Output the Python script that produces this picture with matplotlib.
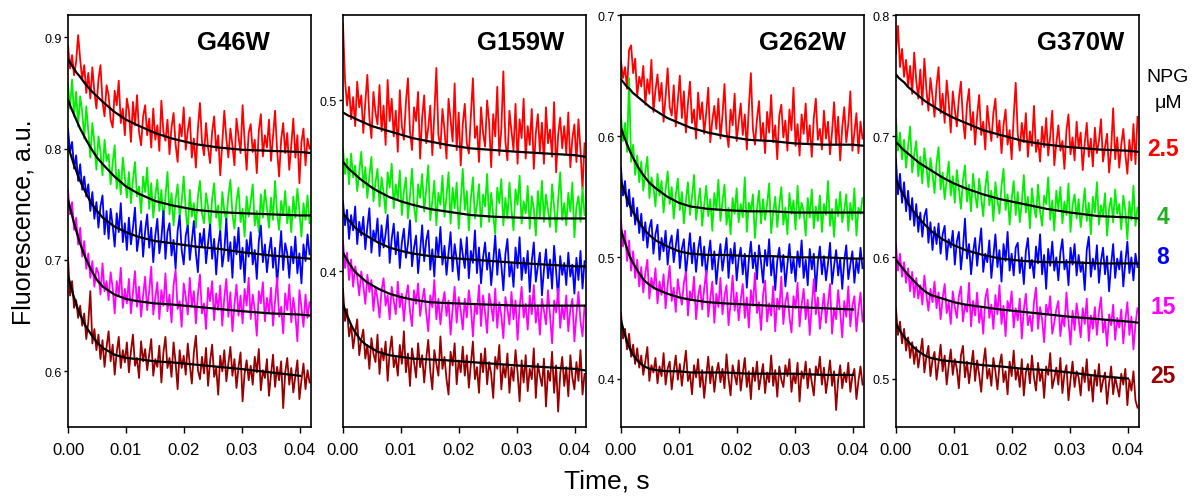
import matplotlib
matplotlib.use("Agg")
import matplotlib.pyplot as plt
import numpy as np
from matplotlib.ticker import FormatStrFormatter

plt.rcParams["font.family"] = ["Liberation Sans", "DejaVu Sans"]

# sampling grid of the stopped-flow traces (s)
TIME = np.arange(120) * 0.00035
# time points where the fitted curves were read (s)
FIT_TIME = [0, .0005, .001, .0015, .002, .003, .004, .005, .006, .008,
            .010, .012, .015, .018, .022, .026, .030, .035, .040, .042]

NPG_LABELS = ["2.5", "4", "8", "15", "25"]
TRACE_COLORS = ["#ff0000", "#00f000", "#0000ff", "#ff00ff", "#990000"]
LABEL_COLORS = ["#ff0000", "#22b022", "#0000ff", "#ff00ff", "#990000"]

# ---- G46W (fluorescence x1000) ----
G46W_25 = [893, 872, 884, 866, 878, 902, 880, 862, 875, 850,
           868, 845, 873, 851, 836, 862, 875, 842, 829, 857,
           848, 826, 819, 852, 839, 861, 823, 836, 812, 845,
           834, 806, 842, 821, 848, 815, 803, 829, 839, 812,
           827, 801, 836, 808, 821, 798, 843, 815, 807, 826,
           795, 819, 832, 804, 788, 822, 811, 837, 799, 816,
           828, 792, 809, 783, 818, 841, 806, 794, 823, 801,
           787, 815, 829, 798, 812, 776, 805, 834, 809, 792,
           818, 803, 785, 827, 811, 796, 839, 807, 781, 814,
           822, 797, 808, 778, 816, 831, 793, 812, 801, 826,
           789, 811, 834, 799, 775, 808, 823, 796, 814, 781,
           803, 827, 792, 812, 769, 806, 818, 785, 809, 800]
G46W_4 = [858, 836, 862, 829, 851, 820, 847, 833, 809, 838,
          816, 792, 823, 805, 781, 811, 797, 776, 808, 789,
          795, 768, 787, 803, 764, 781, 759, 792, 774, 756,
          779, 751, 772, 788, 757, 766, 742, 775, 761, 783,
          746, 769, 738, 758, 772, 744, 763, 735, 757, 779,
          741, 760, 731, 754, 768, 739, 752, 775, 744, 726,
          763, 739, 751, 729, 757, 771, 742, 733, 760, 748,
          727, 755, 769, 738, 749, 722, 761, 744, 735, 758,
          772, 741, 728, 753, 765, 734, 746, 721, 757, 739,
          752, 768, 731, 744, 725, 759, 738, 763, 747, 729,
          756, 736, 771, 742, 727, 753, 740, 762, 733, 748,
          725, 757, 738, 764, 744, 721, 751, 736, 758, 733]
G46W_8 = [818, 797, 806, 782, 794, 771, 786, 763, 775, 757,
          768, 744, 761, 737, 752, 729, 748, 758, 723, 744,
          719, 746, 731, 712, 742, 725, 751, 716, 733, 709,
          738, 714, 729, 747, 708, 721, 735, 703, 726, 741,
          711, 729, 698, 722, 737, 706, 719, 744, 701, 725,
          733, 704, 718, 692, 726, 740, 709, 696, 722, 731,
          700, 717, 735, 706, 689, 724, 712, 728, 697, 715,
          732, 701, 719, 687, 713, 726, 694, 708, 737, 699,
          716, 684, 721, 705, 729, 692, 711, 680, 718, 703,
          725, 696, 709, 683, 717, 731, 698, 714, 689, 707,
          720, 693, 711, 678, 702, 726, 691, 715, 706, 684,
          712, 697, 721, 688, 706, 679, 714, 699, 723, 705]
G46W_15 = [763, 741, 752, 727, 738, 714, 729, 703, 717, 692,
           706, 684, 699, 676, 693, 688, 669, 697, 672, 681,
           664, 689, 675, 652, 681, 668, 693, 657, 674, 661,
           683, 652, 671, 690, 658, 676, 649, 668, 685, 655,
           672, 694, 651, 666, 680, 647, 673, 659, 688, 654,
           669, 644, 677, 691, 656, 663, 640, 679, 667, 651,
           684, 658, 672, 643, 669, 687, 652, 661, 638, 675,
           663, 681, 646, 670, 655, 677, 641, 666, 683, 649,
           671, 636, 660, 678, 650, 668, 643, 674, 659, 684,
           647, 669, 655, 632, 672, 661, 680, 645, 666, 652,
           675, 641, 663, 684, 649, 658, 634, 670, 655, 678,
           644, 666, 651, 627, 673, 657, 640, 669, 648, 662]
G46W_25B = [702, 668, 681, 657, 664, 648, 659, 641, 652, 629,
            644, 672, 625, 638, 619, 633, 611, 628, 604, 622,
            636, 609, 624, 597, 617, 631, 603, 619, 608, 626,
            599, 618, 633, 605, 612, 594, 627, 609, 620, 601,
            615, 629, 596, 611, 604, 623, 590, 617, 631, 603,
            612, 595, 626, 608, 584, 619, 603, 614, 597, 625,
            606, 589, 617, 632, 601, 593, 613, 598, 621, 587,
            609, 624, 595, 603, 579, 614, 600, 619, 591, 607,
            622, 596, 611, 585, 604, 617, 573, 598, 610, 592,
            605, 588, 613, 599, 620, 583, 601, 594, 611, 578,
            597, 615, 586, 604, 592, 609, 567, 599, 612, 588,
            603, 581, 596, 610, 575, 592, 607, 584, 601, 590]
G46W_FITS = [
    [880, 876, 872, 868, 865, 858, 852, 847, 842, 833, 826, 821, 814, 809, 804, 801, 799, 798, 797, 796],
    [844, 837, 831, 825, 819, 809, 800, 792, 786, 775, 766, 760, 753, 749, 745, 743, 742, 741, 740, 740],
    [802, 794, 786, 779, 772, 761, 751, 744, 738, 730, 725, 721, 717, 715, 712, 710, 707, 704, 702, 701],
    [754, 744, 734, 725, 716, 702, 691, 682, 676, 669, 665, 663, 661, 660, 658, 656, 654, 652, 651, 650],
    [686, 676, 667, 659, 652, 641, 633, 626, 621, 615, 612, 611, 609, 608, 606, 604, 602, 599, 596],
]

# ---- G159W ----
G159W_25 = [545, 512, 497, 508, 489, 502, 485, 511, 496, 503,
            481, 499, 515, 490, 478, 505, 493, 486, 509, 482,
            497, 474, 512, 488, 501, 479, 494, 470, 506, 485,
            477, 499, 513, 482, 471, 496, 488, 505, 466, 490,
            503, 475, 484, 497, 468, 492, 519, 480, 472, 495,
            483, 466, 501, 489, 476, 510, 471, 493, 462, 486,
            498, 475, 469, 491, 513, 478, 485, 464, 496, 481,
            473, 500, 487, 461, 492, 479, 508, 468, 483, 517,
            476, 465, 494, 482, 471, 498, 463, 489, 478, 501,
            466, 485, 474, 495, 460, 481, 492, 470, 487, 463,
            496, 475, 483, 467, 499, 458, 480, 490, 472, 485,
            469, 493, 461, 478, 486, 464, 489, 471, 448, 475]
G159W_4 = [472, 457, 466, 451, 469, 455, 462, 447, 458, 470,
           449, 461, 443, 456, 467, 441, 452, 460, 438, 455,
           446, 434, 458, 449, 463, 437, 451, 442, 459, 433,
           447, 455, 431, 444, 460, 438, 429, 451, 443, 457,
           435, 448, 462, 430, 441, 453, 427, 446, 439, 456,
           432, 444, 458, 428, 449, 437, 452, 425, 441, 460,
           436, 447, 424, 443, 455, 431, 439, 451, 426, 445,
           438, 457, 429, 446, 433, 422, 449, 440, 454, 427,
           443, 431, 452, 436, 424, 448, 439, 456, 428, 441,
           434, 450, 425, 444, 437, 421, 447, 432, 453, 429,
           445, 436, 426, 451, 438, 423, 442, 458, 430, 440,
           427, 446, 435, 452, 420, 438, 444, 429, 449, 433]
G159W_8 = [441, 427, 436, 419, 433, 424, 438, 416, 429, 421,
           432, 413, 426, 437, 411, 424, 418, 431, 409, 427,
           414, 422, 433, 405, 419, 428, 410, 423, 402, 417,
           425, 408, 416, 430, 403, 414, 421, 399, 412, 427,
           406, 418, 424, 401, 413, 397, 420, 409, 426, 404,
           415, 398, 411, 423, 400, 416, 407, 395, 419, 410,
           402, 420, 396, 412, 405, 424, 399, 414, 393, 408,
           417, 401, 411, 392, 406, 421, 398, 413, 404, 389,
           410, 419, 397, 405, 391, 414, 402, 420, 395, 408,
           399, 412, 388, 406, 417, 394, 403, 411, 386, 401,
           413, 396, 407, 390, 415, 400, 384, 409, 398, 405,
           392, 411, 397, 404, 387, 408, 395, 412, 390, 406]
G159W_15 = [418, 402, 411, 395, 407, 391, 403, 397, 386, 400,
            392, 381, 398, 388, 395, 377, 391, 384, 373, 389,
            396, 380, 386, 372, 391, 383, 375, 394, 379, 387,
            371, 385, 392, 377, 368, 389, 381, 393, 374, 383,
            390, 376, 365, 386, 379, 395, 372, 384, 369, 381,
            388, 374, 383, 363, 378, 391, 370, 385, 377, 366,
            384, 373, 389, 379, 362, 381, 375, 392, 368, 386,
            376, 364, 387, 380, 371, 390, 367, 382, 374, 361,
            385, 378, 369, 388, 372, 383, 360, 379, 391, 373,
            381, 366, 386, 375, 392, 370, 380, 363, 384, 377,
            369, 389, 374, 358, 383, 376, 390, 367, 380, 372,
            386, 365, 378, 384, 359, 375, 388, 371, 362, 380]
G159W_25B = [390, 371, 378, 362, 369, 355, 364, 372, 351, 360,
             366, 349, 357, 343, 361, 352, 347, 363, 340, 355,
             348, 359, 336, 353, 362, 344, 350, 339, 357, 346,
             365, 341, 352, 333, 355, 347, 338, 358, 344, 351,
             335, 349, 360, 342, 331, 354, 346, 339, 362, 343,
             350, 337, 328, 353, 345, 358, 334, 348, 341, 356,
             339, 351, 332, 346, 359, 337, 344, 329, 352, 341,
             355, 334, 347, 340, 326, 350, 343, 357, 331, 345,
             338, 352, 329, 344, 336, 354, 341, 324, 348, 335,
             351, 330, 343, 337, 355, 326, 346, 339, 333, 349,
             321, 342, 336, 353, 329, 345, 318, 340, 350, 333,
             344, 327, 351, 338, 331, 347, 336, 354, 328, 340]
G159W_FITS = [
    [493, 492, 491, 490.5, 489.5, 488, 486.5, 485, 484, 482, 480, 478, 476, 474, 472, 471, 470, 469, 468, 467],
    [464, 462, 460, 458.5, 457, 454, 451.5, 449, 447, 443.5, 441, 439, 436.5, 435, 433, 432, 431.5, 431, 431, 431],
    [434, 432, 430, 428, 426, 423, 421, 419, 417, 414, 412, 410.5, 409, 408, 407, 406, 405, 404, 403, 403],
    [411, 408, 405, 402.5, 400, 397, 394, 392, 390, 387, 385, 383.5, 382, 381.5, 381, 380.5, 380, 380, 380, 380],
    [381, 376, 372, 368, 365, 360, 357, 355, 353, 351, 350, 349, 348.5, 348, 347, 346, 345, 344, 343, 342],
]

# ---- G262W ----
G262W_25 = [662, 648, 657, 639, 671, 675, 652, 664, 633, 649,
            641, 658, 626, 647, 635, 663, 620, 638, 651, 629,
            644, 612, 633, 656, 624, 617, 642, 608, 629, 650,
            615, 637, 603, 627, 645, 611, 622, 598, 636, 614,
            628, 602, 619, 640, 595, 613, 625, 606, 631, 598,
            617, 643, 604, 591, 622, 609, 635, 596, 612, 627,
            601, 618, 589, 624, 652, 606, 593, 614, 629, 597,
            611, 586, 620, 603, 634, 595, 609, 581, 617, 626,
            599, 613, 588, 622, 605, 640, 592, 610, 584, 618,
            602, 627, 594, 609, 583, 615, 631, 597, 606, 589,
            621, 598, 612, 585, 604, 628, 593, 616, 580, 607,
            624, 595, 610, 637, 588, 603, 619, 586, 612, 598]
G262W_4 = [618, 596, 611, 587, 648, 579, 593, 568, 584, 562,
           579, 555, 571, 583, 549, 566, 558, 542, 569, 551,
           563, 537, 556, 571, 544, 558, 532, 551, 565, 539,
           554, 528, 547, 562, 535, 550, 568, 531, 545, 557,
           526, 543, 559, 534, 548, 522, 553, 539, 564, 530,
           546, 560, 527, 541, 519, 549, 536, 557, 529, 544,
           533, 566, 521, 545, 538, 552, 516, 540, 555, 528,
           548, 531, 544, 561, 520, 537, 550, 525, 543, 558,
           527, 541, 519, 553, 536, 547, 523, 559, 532, 545,
           538, 518, 549, 533, 556, 524, 542, 530, 551, 521,
           544, 535, 563, 526, 540, 517, 548, 534, 554, 529,
           539, 552, 522, 545, 531, 557, 518, 541, 536, 549]
G262W_8 = [574, 551, 563, 542, 556, 534, 549, 527, 541, 520,
           536, 514, 529, 508, 524, 531, 503, 519, 527, 498,
           516, 505, 522, 494, 511, 518, 496, 509, 523, 491,
           507, 515, 486, 503, 520, 495, 512, 488, 506, 517,
           493, 509, 484, 501, 514, 490, 505, 478, 497, 511,
           489, 502, 516, 483, 507, 495, 512, 481, 499, 508,
           486, 503, 475, 498, 513, 491, 504, 482, 510, 496,
           479, 506, 493, 515, 485, 500, 473, 497, 508, 488,
           502, 476, 494, 511, 487, 499, 480, 505, 492, 514,
           483, 498, 477, 507, 490, 503, 472, 496, 509, 486,
           501, 481, 495, 512, 478, 493, 506, 485, 499, 474,
           497, 510, 482, 494, 505, 479, 498, 487, 508, 491]
G262W_15 = [531, 509, 522, 497, 514, 489, 505, 483, 498, 476,
            492, 471, 487, 498, 466, 483, 474, 491, 462, 480,
            469, 486, 458, 477, 493, 464, 475, 455, 482, 470,
            461, 479, 488, 452, 472, 465, 484, 449, 468, 477,
            457, 474, 489, 451, 466, 480, 446, 470, 459, 483,
            453, 468, 477, 444, 462, 485, 456, 471, 448, 465,
            478, 450, 467, 442, 473, 460, 487, 454, 463, 440,
            469, 481, 447, 462, 452, 476, 439, 466, 457, 484,
            445, 463, 471, 451, 438, 468, 458, 479, 443, 461,
            474, 449, 465, 436, 460, 482, 453, 467, 441, 456,
            470, 446, 462, 478, 437, 458, 449, 473, 455, 434,
            464, 451, 476, 443, 460, 468, 439, 457, 471, 447]
G262W_25B = [454, 433, 441, 424, 437, 418, 428, 412, 425, 409,
             419, 403, 414, 426, 398, 411, 405, 417, 396, 410,
             402, 421, 395, 408, 414, 391, 406, 419, 399, 412,
             394, 409, 423, 398, 404, 387, 411, 401, 416, 393,
             407, 384, 402, 418, 396, 410, 389, 405, 413, 397,
             408, 392, 420, 400, 386, 411, 403, 395, 415, 390,
             404, 417, 393, 406, 383, 409, 398, 414, 391, 402,
             412, 388, 405, 397, 419, 394, 407, 385, 410, 399,
             393, 411, 402, 416, 389, 404, 396, 413, 381, 406,
             400, 414, 392, 408, 397, 386, 410, 403, 418, 395,
             409, 388, 401, 415, 394, 406, 374, 399, 411, 392,
             405, 397, 413, 389, 402, 408, 383, 398, 410, 395]
G262W_FITS = [
    [647, 644, 641, 639, 636, 632, 628, 624, 621, 615, 611, 607, 603, 600, 597, 596, 594, 593, 593, 592],
    [607, 600, 594, 588, 583, 574, 567, 561, 557, 550, 545, 542, 540, 539, 538, 538, 537, 537, 537, 537],
    [562, 556, 549, 543, 538, 530, 523, 518, 514, 509, 505, 503, 502, 502, 501, 501, 500, 500, 499, 499],
    [523, 515, 508, 501, 496, 488, 481, 477, 474, 470, 467, 465, 463, 462, 461, 460, 459, 458, 457],
    [448, 439, 431, 425, 420, 414, 410, 408, 407, 406, 406, 405, 405, 405, 404, 404, 404, 403, 403],
]

# ---- G370W ----
G370W_25 = [768, 791, 757, 772, 749, 763, 741, 758, 735, 769,
            746, 731, 755, 726, 764, 739, 721, 748, 733, 716,
            742, 757, 719, 735, 711, 746, 728, 703, 737, 722,
            708, 731, 745, 714, 698, 726, 739, 705, 720, 693,
            717, 734, 701, 712, 689, 725, 708, 696, 719, 731,
            699, 713, 686, 709, 722, 693, 705, 681, 716, 744,
            702, 688, 711, 695, 719, 683, 704, 692, 725, 687,
            697, 679, 708, 691, 715, 684, 700, 721, 676, 694,
            709, 688, 696, 673, 705, 718, 685, 699, 680, 712,
            690, 703, 672, 694, 711, 683, 698, 675, 707, 686,
            696, 714, 679, 691, 702, 670, 689, 723, 681, 699,
            674, 693, 706, 685, 669, 697, 680, 710, 677, 716]
G370W_4 = [714, 688, 703, 681, 697, 674, 692, 708, 670, 685,
           696, 667, 683, 661, 690, 675, 658, 682, 669, 653,
           678, 691, 656, 670, 648, 664, 679, 651, 667, 645,
           672, 657, 640, 663, 676, 646, 660, 638, 669, 652,
           641, 665, 649, 634, 658, 671, 643, 655, 630, 662,
           647, 636, 659, 673, 639, 652, 627, 648, 663, 635,
           654, 629, 645, 668, 637, 650, 624, 657, 641, 633,
           660, 638, 626, 651, 644, 666, 631, 647, 622, 655,
           640, 658, 628, 646, 635, 661, 621, 643, 652, 632,
           648, 625, 639, 657, 630, 645, 619, 650, 637, 662,
           627, 643, 634, 653, 618, 640, 649, 629, 656, 636,
           644, 623, 651, 638, 615, 646, 631, 659, 626, 641]
G370W_8 = [681, 652, 669, 645, 662, 638, 655, 631, 649, 626,
           644, 621, 637, 617, 634, 640, 612, 629, 606, 625,
           611, 628, 603, 619, 626, 598, 615, 608, 622, 594,
           613, 621, 590, 607, 632, 599, 611, 586, 604, 616,
           593, 609, 624, 588, 603, 596, 614, 583, 601, 619,
           592, 606, 580, 611, 597, 621, 589, 603, 585, 608,
           612, 587, 600, 578, 605, 616, 591, 598, 583, 609,
           595, 619, 586, 602, 574, 607, 593, 613, 589, 600,
           581, 604, 615, 590, 598, 577, 608, 594, 611, 585,
           602, 588, 596, 573, 606, 617, 584, 599, 590, 610,
           579, 597, 608, 586, 601, 572, 594, 611, 583, 599,
           590, 605, 576, 596, 613, 587, 600, 581, 603, 592]
G370W_15 = [611, 589, 603, 584, 596, 579, 591, 572, 588, 567,
            583, 566, 577, 561, 585, 569, 556, 574, 563, 580,
            558, 571, 549, 566, 578, 554, 563, 545, 572, 559,
            550, 568, 576, 547, 561, 555, 579, 543, 564, 552,
            571, 546, 558, 537, 566, 574, 550, 561, 541, 569,
            553, 577, 545, 560, 535, 564, 556, 572, 542, 558,
            548, 566, 533, 557, 570, 544, 552, 539, 563, 575,
            541, 559, 549, 530, 561, 553, 568, 537, 546, 557,
            564, 535, 551, 543, 571, 547, 528, 556, 540, 562,
            549, 534, 558, 545, 566, 531, 552, 541, 559, 536,
            555, 567, 538, 548, 527, 553, 544, 561, 532, 550,
            542, 557, 529, 548, 563, 536, 551, 524, 545, 558]
G370W_25B = [558, 536, 547, 529, 541, 523, 534, 517, 530, 512,
             526, 509, 521, 533, 505, 518, 527, 502, 515, 522,
             499, 513, 528, 506, 519, 495, 511, 524, 503, 516,
             508, 492, 519, 527, 501, 514, 496, 510, 523, 498,
             515, 503, 489, 512, 525, 500, 508, 494, 517, 506,
             491, 511, 520, 497, 506, 487, 514, 502, 523, 499,
             508, 493, 516, 486, 505, 512, 496, 519, 501, 490,
             513, 498, 507, 484, 510, 503, 521, 492, 500, 509,
             495, 517, 488, 504, 511, 482, 499, 514, 493, 506,
             501, 486, 509, 497, 516, 490, 503, 481, 507, 494,
             512, 489, 498, 505, 479, 496, 510, 487, 501, 493,
             485, 504, 495, 508, 478, 499, 490, 506, 482, 476]
G370W_FITS = [
    [751, 748, 746, 744, 741, 737, 733, 729, 726, 720, 715, 711, 705, 701, 696, 693, 691, 689, 688, 687],
    [695, 693, 690, 688, 686, 682, 678, 675, 672, 666, 661, 657, 652, 648, 644, 640, 637, 634, 633, 632],
    [664, 659, 654, 650, 645, 638, 632, 627, 622, 615, 610, 606, 602, 599, 597, 596, 596, 595, 595, 595],
    [598, 595, 592, 589, 586, 581, 576, 572, 569, 566, 563, 561, 559, 557, 555, 553, 551, 549, 547, 546],
    [545, 541, 537, 534, 531, 526, 522, 519, 517, 515, 514, 513, 511, 510, 508, 507, 505, 502, 500],
]

PANELS = [
    ("G46W", [G46W_25, G46W_4, G46W_8, G46W_15, G46W_25B], G46W_FITS,
     (0.55, 0.92), [0.6, 0.7, 0.8, 0.9], 0.68),
    ("G159W", [G159W_25, G159W_4, G159W_8, G159W_15, G159W_25B], G159W_FITS,
     (0.309, 0.55), [0.4, 0.5], 0.73),
    ("G262W", [G262W_25, G262W_4, G262W_8, G262W_15, G262W_25B], G262W_FITS,
     (0.36, 0.70), [0.4, 0.5, 0.6, 0.7], 0.745),
    ("G370W", [G370W_25, G370W_4, G370W_8, G370W_15, G370W_25B], G370W_FITS,
     (0.46, 0.80), [0.5, 0.6, 0.7, 0.8], 0.76),
]
AX_LEFTS = [0.0570, 0.2875, 0.5205, 0.7510]


def main() -> None:
    fig = plt.figure(figsize=(11.93, 5.02), dpi=100)
    for left, (name, traces, fits, ylim, yticks, title_x) in zip(AX_LEFTS, PANELS):
        ax = fig.add_axes([left, 0.1474, 0.2037, 0.8207])
        for trace, color in zip(traces, TRACE_COLORS):
            ax.plot(TIME, np.array(trace) / 1000, color=color, linewidth=1.3)
        for fit in fits:
            ax.plot(FIT_TIME[:len(fit)], np.array(fit) / 1000, color="black", linewidth=1.6)
        ax.set_xlim(0, 0.0419)
        ax.set_ylim(*ylim)
        ax.set_xticks([0, 0.01, 0.02, 0.03, 0.04])
        ax.xaxis.set_major_formatter(FormatStrFormatter("%.2f"))
        ax.set_yticks(yticks)
        ax.tick_params(axis="x", labelsize=12, length=4, width=1, direction="out", pad=7)
        ax.tick_params(axis="y", labelsize=9, length=3, width=1, direction="out", pad=1.5)
        for spine in ax.spines.values():
            spine.set_linewidth(1.2)
        ax.text(title_x, 0.934, name, transform=ax.transAxes, ha="center", va="center",
                fontsize=18.5, fontweight="bold")

    fig.text(0.0193, 0.558, "Fluorescence, a.u.", rotation=90, ha="center", va="center", fontsize=18)
    fig.text(0.509, 0.04, "Time, s", ha="center", va="center", fontsize=19)

    fig.text(1168 / 1193, 1 - 77 / 502, "NPG", ha="center", va="center", fontsize=14)
    fig.text(1168 / 1193, 1 - 103 / 502, "\u03bcM", ha="center", va="center", fontsize=14)
    label_y = [150, 217, 257, 307, 377]
    for text, color, y in zip(NPG_LABELS, LABEL_COLORS, label_y):
        fig.text(1163 / 1193, 1 - y / 502, text, color=color, ha="center", va="center",
                 fontsize=16.5, fontweight="bold")

    fig.savefig("out.png", dpi=100)
    plt.close(fig)


if __name__ == "__main__":
    main()
